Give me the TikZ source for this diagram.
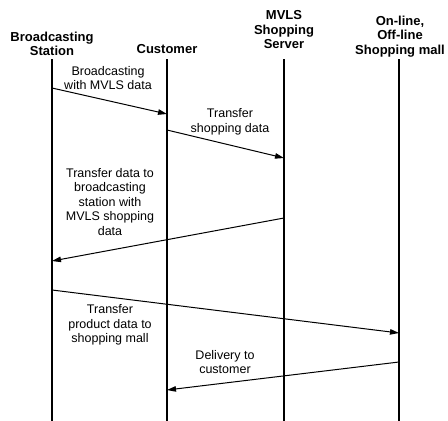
\documentclass[tikz,border=0pt]{standalone}
\usepackage{fontspec}
\setmainfont{Liberation Sans}
\usetikzlibrary{arrows.meta, positioning}
\tikzset{
  seqhead/.style={font=\bfseries\fontsize{13}{14.5}\selectfont, align=center,
    inner sep=0pt, anchor=south},
  seqlabel/.style={font=\fontsize{12.5}{14.5}\selectfont, align=center, inner sep=0pt},
  lifeline/.style={line width=1.8pt, black},
  msgarrow/.style={-{Triangle[length=9pt, width=5.5pt]}, line width=1pt, black},
}

\begin{document}
\begin{tikzpicture}[x=1pt, y=-1pt]
  \useasboundingbox (0,0) rectangle (448,421);
  \node[seqhead] (bs) at (52,56) {Broadcasting\\Station};
  \node[seqhead] (cust) at (167,54) {Customer};
  \node[seqhead] (srv) at (284,49) {MVLS\\Shopping\\Server};
  \node[seqhead] (mall) at (400,57) {On-line,\\Off-line\\Shopping mall};
  \coordinate (bsTop) at (52,59);   \coordinate (bsEnd) at (52,421);
  \coordinate (custTop) at (167,59); \coordinate (custEnd) at (167,421);
  \coordinate (srvTop) at (284,59);  \coordinate (srvEnd) at (284,421);
  \coordinate (mallTop) at (399,59); \coordinate (mallEnd) at (399,421);
  \draw[lifeline] (bsTop) -- (bsEnd);
  \draw[lifeline] (custTop) -- (custEnd);
  \draw[lifeline] (srvTop) -- (srvEnd);
  \draw[lifeline] (mallTop) -- (mallEnd);
  \coordinate (m1a) at (52,88);   \coordinate (m1b) at (167,114);
  \coordinate (m2a) at (167,130); \coordinate (m2b) at (284,158);
  \coordinate (m3a) at (284,218); \coordinate (m3b) at (52,261);
  \coordinate (m4a) at (52,290);  \coordinate (m4b) at (399,333);
  \coordinate (m5a) at (399,362); \coordinate (m5b) at (167,390);
  \draw[msgarrow] (m1a) -- (m1b);
  \draw[msgarrow] (m2a) -- (m2b);
  \draw[msgarrow] (m3a) -- (m3b);
  \draw[msgarrow] (m4a) -- (m4b);
  \draw[msgarrow] (m5a) -- (m5b);
  \node[seqlabel] (l1) at (108,78) {Broadcasting\\with MVLS data};
  \node[seqlabel] (l2) at (230,122) {Transfer\\shopping data};
  \node[seqlabel] (l3) at (110,202) {Transfer data to\\broadcasting\\station with\\MVLS shopping\\data};
  \node[seqlabel] (l4) at (110,325) {Transfer\\product data to\\shopping mall};
  \node[seqlabel] (l5) at (225,362) {Delivery to\\customer};
\end{tikzpicture}
\end{document}
